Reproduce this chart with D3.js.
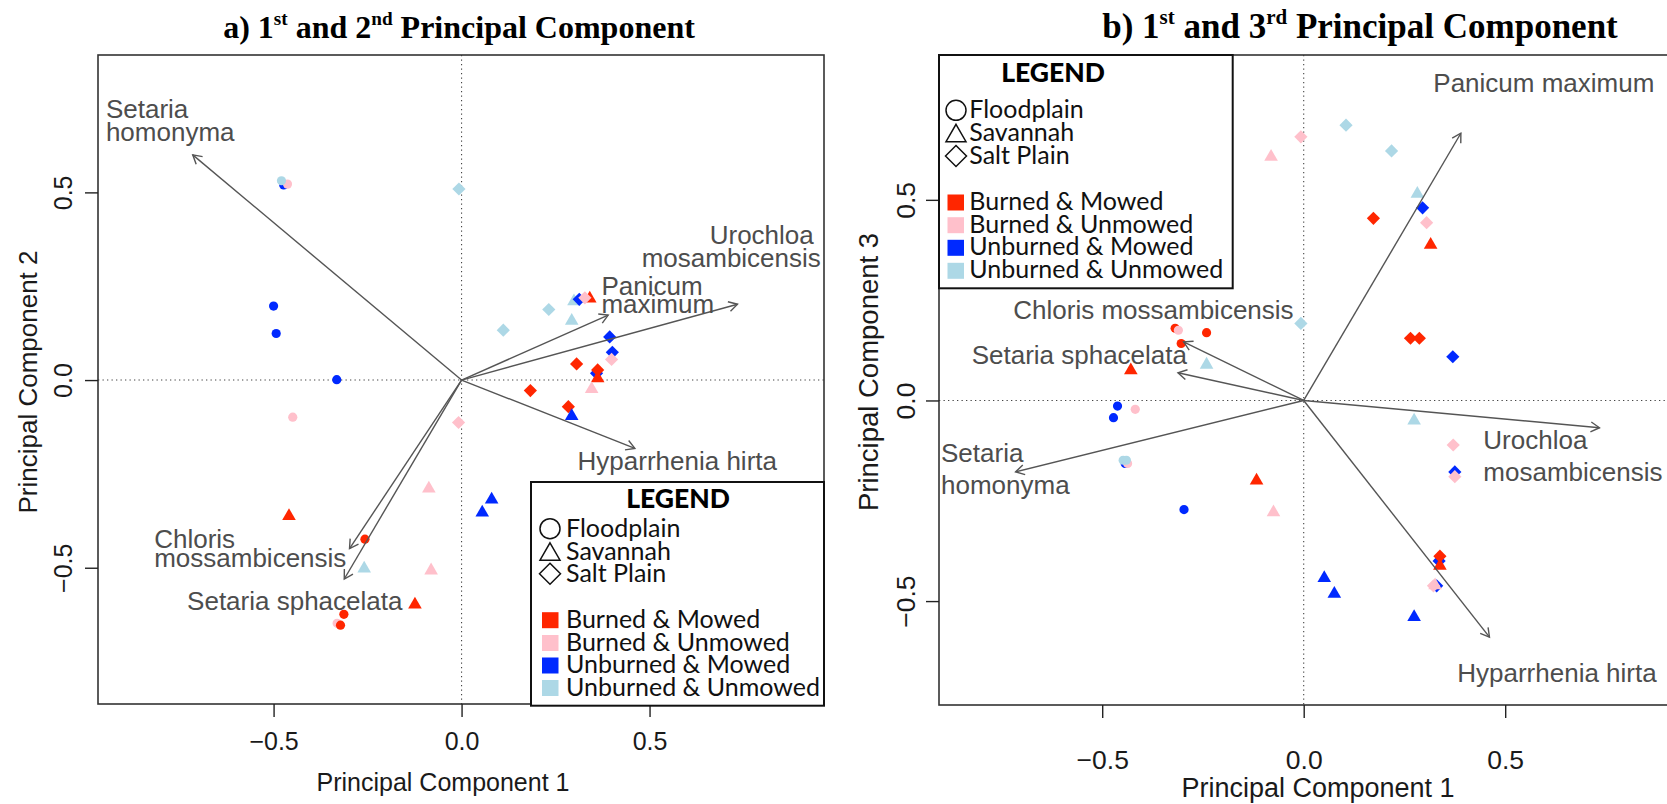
<!DOCTYPE html>
<html>
<head>
<meta charset="utf-8">
<script src="https://cdn.jsdelivr.net/npm/d3@7"></script>
<style>
html,body{margin:0;padding:0;background:#fff;}
svg{display:block;}
</style>
</head>
<body>
<svg id="chart" width="1667" height="804"></svg>
<script>
// ================= DATA =================
const speciesA = ["Setaria homonyma", "Panicum maximum", "Urochloa mosambicensis", "Hyparrhenia hirta", "Chloris mossambicensis", "Setaria sphacelata"];
const loadingPC1 = [-0.715, 0.390, 0.734, 0.461, -0.298, -0.312];
const loadingPC2 = [0.600, 0.173, 0.202, -0.182, -0.449, -0.530];
const loadingPC3 = [-0.178, 0.666, -0.068, -0.590, 0.146, 0.069];

const siteTypes = ["Floodplain", "Savannah", "Salt Plain"];
const treatments = ["Burned & Mowed", "Burned & Unmowed", "Unburned & Mowed", "Unburned & Unmowed"];
const treatmentColors = ["#ff2600", "#ffc0cb", "#0029ff", "#add8e6"];
const tickValues = [-0.5, 0.0, 0.5];

// Panel a : sample scores on PC1 / PC2  (site: 0 Floodplain, 1 Savannah, 2 Salt Plain; treatment index)
const scoresA_PC1 = [-0.473, -0.463, -0.479, -0.007, -0.500, -0.493, -0.332, 0.111, 0.232, 0.293, 0.341, 0.299, 0.313, 0.328, 0.394, 0.401, 0.399, 0.306, 0.359, 0.362, 0.362, 0.346, 0.183, 0.284, 0.293, -0.008, -0.449, -0.087, 0.080, 0.055, -0.459, -0.257, -0.259, -0.081, -0.124, -0.313, -0.331, -0.322];
const scoresA_PC2 = [0.520, 0.522, 0.531, 0.509, 0.197, 0.124, 0.001, 0.133, 0.188, 0.163, 0.222, 0.215, 0.215, 0.219, 0.115, 0.074, 0.055, 0.043, 0.018, 0.027, 0.010, -0.019, -0.028, -0.071, -0.091, -0.113, -0.099, -0.284, -0.313, -0.348, -0.357, -0.424, -0.497, -0.502, -0.593, -0.624, -0.648, -0.653];
const scoresA_site = [0, 0, 0, 2, 0, 0, 0, 2, 2, 1, 1, 1, 2, 2, 2, 2, 2, 2, 2, 2, 1, 1, 2, 2, 1, 2, 0, 1, 1, 1, 1, 0, 1, 1, 1, 0, 0, 0];
const scoresA_treat = [2, 1, 3, 3, 2, 2, 2, 3, 3, 3, 0, 3, 2, 1, 2, 2, 1, 0, 2, 0, 0, 1, 0, 0, 2, 1, 1, 1, 2, 2, 0, 0, 3, 1, 0, 0, 1, 0];

// Panel b : sample scores on PC1 / PC3
const scoresB_PC1 = [0.105, -0.007, -0.081, 0.218, 0.282, 0.295, 0.305, 0.173, 0.315, -0.007, 0.265, 0.287, 0.370, 0.274, 0.371, 0.375, 0.375, -0.117, -0.075, 0.336, 0.338, 0.338, 0.330, 0.322, 0.326, 0.051, 0.076, 0.274, -0.429, -0.241, -0.462, -0.472, -0.418, -0.443, -0.437, -0.448, -0.440, -0.297, -0.319, -0.311, -0.241, -0.304];
const scoresB_PC3 = [0.686, 0.657, 0.612, 0.622, 0.520, 0.480, 0.443, 0.454, 0.393, 0.192, 0.155, 0.155, 0.109, -0.045, -0.111, -0.178, -0.190, -0.195, -0.274, -0.400, -0.388, -0.407, -0.462, -0.462, -0.456, -0.438, -0.477, -0.535, 0.080, 0.094, -0.014, -0.043, -0.022, -0.157, -0.157, -0.149, -0.149, -0.272, 0.180, 0.175, 0.169, 0.142];
const scoresB_site = [2, 2, 1, 2, 1, 2, 2, 2, 1, 2, 2, 2, 2, 1, 2, 2, 2, 1, 1, 2, 2, 1, 2, 2, 1, 1, 1, 1, 1, 1, 0, 0, 0, 0, 0, 0, 0, 0, 0, 0, 0, 0];
const scoresB_treat = [3, 1, 1, 3, 3, 2, 1, 0, 0, 3, 0, 0, 2, 3, 1, 2, 1, 0, 1, 2, 0, 0, 2, 1, 1, 2, 2, 2, 0, 3, 2, 2, 1, 2, 1, 3, 3, 2, 0, 1, 0, 0];

// species names as printed in panel b
const speciesB = ["Setaria homonyma", "Panicum maximum", "Urochloa mosambicensis", "Hyparrhenia hirta", "Chloris mossambicensis", "Setaria sphacelata"];

// ================= LAYOUT =================
const svg = d3.select("#chart");
const LABEL_FONT = "'Liberation Sans', Arial, Helvetica, sans-serif";
const LEGEND_FONT = "Lato, 'Open Sans', sans-serif";
const SERIF = "'Liberation Serif', 'Times New Roman', serif";

// label line anchors (data units); 1 entry => whole name on one line, 2 => split at space
const labelLayoutA = [
  [[-0.946, 0.697], [-0.946, 0.637]],
  [[0.372, 0.2265], [0.372, 0.179]],
  [[0.660, 0.362], [0.479, 0.302]],
  [[0.3085, -0.240]],
  [[-0.8176, -0.447], [-0.8176, -0.4975]],
  [[-0.730, -0.613]]
];
const labelLayoutB = [
  [[-0.900, -0.153], [-0.900, -0.232]],
  [[0.3216, 0.7696]],
  [[0.4457, -0.122], [0.4457, -0.2005]],
  [[0.381, -0.702]],
  [[-0.7206, 0.202]],
  [[-0.824, 0.0905]]
];

const panels = [
  {
    left: 98, right: 824, top: 55, bottom: 704,
    xDomain: [-0.967, 0.964], yDomain: [-0.863, 0.866],
    px: scoresA_PC1, py: scoresA_PC2, site: scoresA_site, treat: scoresA_treat,
    ly: loadingPC2, names: speciesA, labels: labelLayoutA,
    tickFont: 25, xTickBase: 46, yTickBase: 26,
    xTitleFont: 25, yTitleFont: 26, xTitleBase: 87, yTitleX: 37, yTitleY: 382, xTitleX: 443,
    yLabel: "Principal Component 2",
    title: { x: 459, y: 38, size: 32, parts: [["a) 1"], ["st", 1], [" and 2"], ["nd", 1], [" Principal Component"]] },
    legend: { box: [531, 482, 824, 705.7], head: [678, 508], symX: 550, textX: 566,
              siteBase: [536.7, 559.5, 581.7], treatBase: [627.7, 650.5, 673, 695.5], sqX: 542 }
  },
  {
    left: 939, right: 1668, top: 55, bottom: 705,
    xDomain: [-0.905, 0.904], yDomain: [-0.759, 0.861],
    px: scoresB_PC1, py: scoresB_PC3, site: scoresB_site, treat: scoresB_treat,
    ly: loadingPC3, names: speciesB, labels: labelLayoutB,
    tickFont: 26.5, xTickBase: 64, yTickBase: 24,
    xTitleFont: 27, yTitleFont: 27.5, xTitleBase: 92, yTitleX: 878, yTitleY: 372, xTitleX: 1318,
    yLabel: "Principal Component 3",
    title: { x: 1360, y: 38, size: 35, parts: [["b) 1"], ["st", 1], [" and 3"], ["rd", 1], [" Principal Component"]] },
    legend: { box: [939, 55, 1232.7, 288.3], head: [1053, 81.7], symX: 956, textX: 969.3,
              siteBase: [118.3, 141, 164], treatBase: [210, 232.7, 255.3, 278.3], sqX: 947.5 }
  }
];

// ============== symbols ==============
function markerPath(site, cx, cy, big) {
  if (site === 0) {
    const r = big ? 10 : 4.6;
    return `M${cx - r},${cy}a${r},${r} 0 1,0 ${2 * r},0a${r},${r} 0 1,0 ${-2 * r},0Z`;
  } else if (site === 1) {
    const s = big ? 20 : 13.6, h = s * 0.866;
    return `M${cx},${cy - h / 2}L${cx + s / 2},${cy + h / 2}L${cx - s / 2},${cy + h / 2}Z`;
  } else {
    const d = big ? 10.5 : 6.6;
    return `M${cx},${cy - d}L${cx + d},${cy}L${cx},${cy + d}L${cx - d},${cy}Z`;
  }
}

function drawTitle(t) {
  const txt = svg.append("text").attr("x", t.x).attr("y", t.y)
    .attr("text-anchor", "middle").attr("font-family", SERIF)
    .attr("font-weight", "bold").attr("font-size", t.size).attr("fill", "#000");
  let prevSup = false;
  t.parts.forEach(p => {
    const ts = txt.append("tspan").text(p[0]);
    if (p[1]) { ts.attr("font-size", t.size * 0.6).attr("dy", -t.size * 0.4); prevSup = true; }
    else if (prevSup) { ts.attr("dy", t.size * 0.4); prevSup = false; }
  });
}

function drawPanel(c) {
  const g = svg.append("g");
  const x = d3.scaleLinear().domain(c.xDomain).range([c.left, c.right]);
  const y = d3.scaleLinear().domain(c.yDomain).range([c.bottom, c.top]);

  // dotted zero lines
  g.append("line").attr("x1", x(0)).attr("x2", x(0)).attr("y1", c.top).attr("y2", c.bottom)
    .attr("stroke", "#444").attr("stroke-width", 1.1).attr("stroke-dasharray", "1.3,3.2");
  g.append("line").attr("x1", c.left).attr("x2", c.right).attr("y1", y(0)).attr("y2", y(0))
    .attr("stroke", "#444").attr("stroke-width", 1.1).attr("stroke-dasharray", "1.3,3.2");

  // points
  g.append("g").selectAll("path").data(c.px.map((v, i) => i)).join("path")
    .attr("d", i => markerPath(c.site[i], x(c.px[i]), y(c.py[i]), false))
    .attr("fill", i => treatmentColors[c.treat[i]]);

  // loading arrows
  const ag = g.append("g").attr("stroke", "#555").attr("stroke-width", 1.4).attr("fill", "none");
  loadingPC1.forEach((lx, i) => {
    const x0 = x(0), y0 = y(0), x1 = x(lx), y1 = y(c.ly[i]);
    ag.append("line").attr("x1", x0).attr("y1", y0).attr("x2", x1).attr("y2", y1);
    const ang = Math.atan2(y1 - y0, x1 - x0), L = 10, a = Math.PI / 6;
    ag.append("path").attr("d",
      `M${x1 - L * Math.cos(ang - a)},${y1 - L * Math.sin(ang - a)}L${x1},${y1}L${x1 - L * Math.cos(ang + a)},${y1 - L * Math.sin(ang + a)}`);
  });

  // species labels
  const lg = g.append("g").attr("font-family", LABEL_FONT).attr("font-size", 26).attr("fill", "#4d4d4d");
  c.names.forEach((name, i) => {
    const lay = c.labels[i];
    const lines = lay.length === 1 ? [name] : [name.slice(0, name.indexOf(" ")), name.slice(name.indexOf(" ") + 1)];
    lines.forEach((ln, k) => {
      lg.append("text").attr("x", x(lay[k][0])).attr("y", y(lay[k][1])).text(ln);
    });
  });

  // frame
  g.append("rect").attr("x", c.left).attr("y", c.top).attr("width", c.right - c.left).attr("height", c.bottom - c.top)
    .attr("fill", "none").attr("stroke", "#333").attr("stroke-width", 1.6);

  // axes
  const fmt = d3.format(".1f");
  const xa = g.append("g").attr("transform", `translate(0,${c.bottom})`)
    .call(d3.axisBottom(x).tickValues(tickValues).tickSize(13).tickFormat(fmt));
  xa.select(".domain").remove();
  xa.selectAll("line").attr("stroke", "#222").attr("stroke-width", 1.4);
  xa.selectAll("text").attr("y", c.xTickBase).attr("dy", 0).attr("font-size", c.tickFont)
    .attr("font-family", LABEL_FONT).attr("fill", "#1a1a1a");

  const ya = g.append("g").attr("transform", `translate(${c.left},0)`)
    .call(d3.axisLeft(y).tickValues(tickValues).tickSize(13).tickFormat(fmt));
  ya.select(".domain").remove();
  ya.selectAll("line").attr("stroke", "#222").attr("stroke-width", 1.4);
  ya.selectAll("text").attr("x", 0).attr("dy", 0).attr("text-anchor", "middle")
    .attr("transform", `translate(${-c.yTickBase},0) rotate(-90)`)
    .attr("font-size", c.tickFont).attr("font-family", LABEL_FONT).attr("fill", "#1a1a1a");

  // axis titles
  g.append("text").attr("x", c.xTitleX).attr("y", c.bottom + c.xTitleBase).attr("text-anchor", "middle")
    .attr("font-family", LABEL_FONT).attr("font-size", c.xTitleFont).attr("fill", "#1a1a1a").text("Principal Component 1");
  g.append("text").attr("transform", `translate(${c.yTitleX},${c.yTitleY}) rotate(-90)`).attr("text-anchor", "middle")
    .attr("font-family", LABEL_FONT).attr("font-size", c.yTitleFont).attr("fill", "#1a1a1a").text(c.yLabel);

  drawTitle(c.title);

  // legend
  const L = c.legend;
  const leg = g.append("g");
  leg.append("rect").attr("x", L.box[0]).attr("y", L.box[1]).attr("width", L.box[2] - L.box[0]).attr("height", L.box[3] - L.box[1])
    .attr("fill", "#fff").attr("stroke", "#111").attr("stroke-width", 2);
  leg.append("text").attr("x", L.head[0]).attr("y", L.head[1]).attr("text-anchor", "middle")
    .attr("font-family", LEGEND_FONT).attr("font-weight", 900).attr("font-size", 26.5).attr("fill", "#000").text("LEGEND");
  siteTypes.forEach((s, i) => {
    leg.append("path").attr("d", markerPath(i, L.symX, L.siteBase[i] - 8, true))
      .attr("fill", "none").attr("stroke", "#111").attr("stroke-width", 1.5);
    leg.append("text").attr("x", L.textX).attr("y", L.siteBase[i]).attr("font-family", LEGEND_FONT)
      .attr("font-size", 25).attr("fill", "#111").text(s);
  });
  treatments.forEach((t, i) => {
    leg.append("rect").attr("x", L.sqX).attr("y", L.treatBase[i] - 15.5).attr("width", 16.5).attr("height", 16)
      .attr("fill", treatmentColors[i]);
    leg.append("text").attr("x", L.textX).attr("y", L.treatBase[i]).attr("font-family", LEGEND_FONT)
      .attr("font-size", 25).attr("fill", "#111").text(t);
  });
}

panels.forEach(drawPanel);
</script>
</body>
</html>
